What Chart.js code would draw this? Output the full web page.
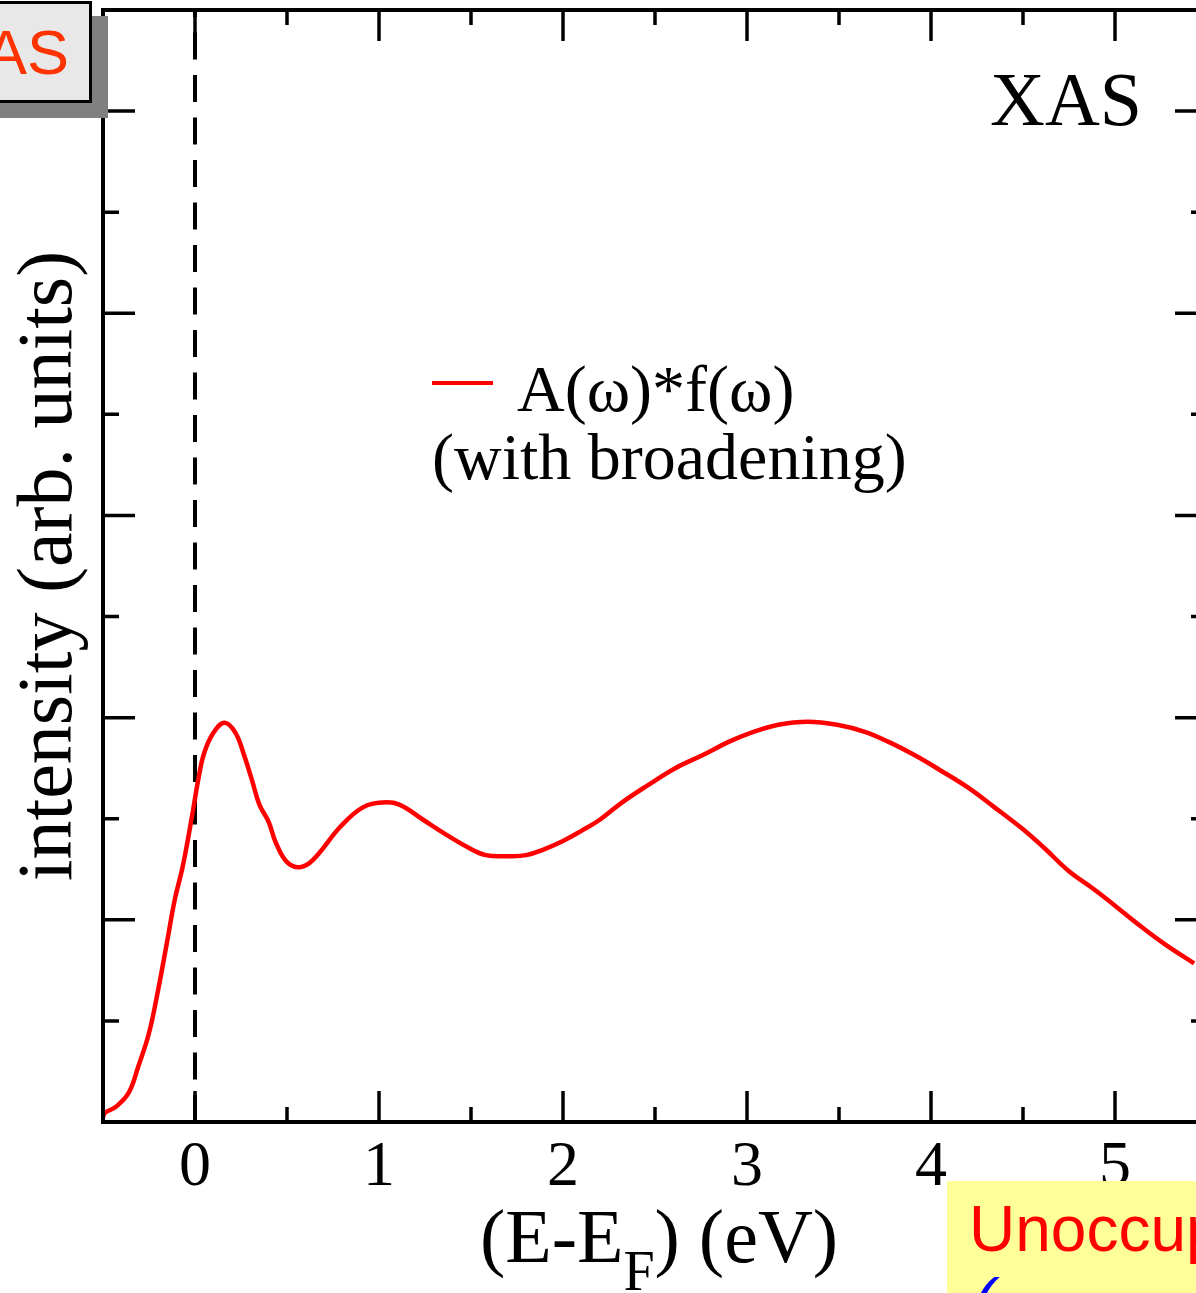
<!DOCTYPE html>
<html>
<head>
<meta charset="utf-8">
<script src="https://cdn.jsdelivr.net/npm/chart.js@4"></script>
<style>
  html, body { margin: 0; padding: 0; background: #fff; }
  body { width: 1196px; height: 1293px; overflow: hidden; position: relative; }
  #wrap { position: absolute; left: 0; top: 0; width: 1240px; height: 1293px; }
  #xTitle {
    position: absolute; left: 359px; width: 600px; top: 1198px;
    text-align: center; font: 76px/76px "Liberation Serif", serif; color: #000; white-space: nowrap;
  }
  #xTitle sub { font-size: 56px; vertical-align: -28px; line-height: 0; }
  #boxTL {
    position: absolute; left: -60px; top: 1px; width: 146px; height: 96px;
    background: #e8e8e8; border: 3px solid #000; box-shadow: 16px 15px 0 #808080;
    font: 63px/96px "Liberation Sans Narrow", "Liberation Sans", sans-serif; color: #ff3300;
    text-align: right; overflow: hidden;
  }
  #boxTL span { position: relative; left: -20px; }
  #boxBR {
    position: absolute; left: 947px; top: 1181px; width: 260px; height: 120px;
    background: #ffff99; overflow: hidden;
    font: 64px/73px "Liberation Sans", sans-serif; white-space: nowrap;
  }
  #boxBR .l1 { position: absolute; left: 22px; top: 12px; color: #ff0000; }
  #boxBR .l2 { position: absolute; left: 26px; top: 85px; color: #0000ff; font-style: italic; }
</style>
</head>
<body>
<div id="wrap"><canvas id="myChart" width="1240" height="1293"></canvas></div>
<div id="xTitle">(E-E<sub>F</sub>) (eV)</div>
<div id="boxTL"><span>XAS</span></div>
<div id="boxBR"><span class="l1">Unoccupied</span><span class="l2">(</span></div>
<script>
// 能量 (E-EF) 與強度
const energy = [-0.50, -0.49, -0.43, -0.36, -0.31, -0.25, -0.20, -0.15, -0.11, -0.07, -0.04, -0.01,
  0.02, 0.05, 0.10, 0.16, 0.22, 0.27, 0.31, 0.35, 0.40, 0.44, 0.50, 0.57, 0.64, 0.79, 0.91,
  1.02, 1.11, 1.24, 1.35, 1.48, 1.58, 1.70, 1.80, 1.90, 2.00, 2.10, 2.20, 2.32, 2.46, 2.61,
  2.76, 2.90, 3.02, 3.17, 3.33, 3.49, 3.64, 3.77, 3.91, 4.05, 4.20, 4.34, 4.49, 4.61, 4.75,
  4.88, 5.00, 5.13, 5.27, 5.43];
const intensity = [0.05, 0.09, 0.15, 0.29, 0.54, 0.88, 1.31, 1.80, 2.20, 2.50, 2.78, 3.09,
  3.41, 3.65, 3.85, 3.95, 3.85, 3.61, 3.38, 3.14, 2.97, 2.76, 2.57, 2.52, 2.59, 2.92, 3.11,
  3.16, 3.14, 2.99, 2.86, 2.72, 2.64, 2.63, 2.64, 2.70, 2.78, 2.88, 2.99, 3.16, 3.33, 3.50,
  3.63, 3.76, 3.85, 3.93, 3.96, 3.93, 3.86, 3.76, 3.63, 3.48, 3.31, 3.12, 2.91, 2.72, 2.48,
  2.31, 2.14, 1.95, 1.76, 1.57];

// Fermi level 虛線
const fermiX = [0, 0];
const fermiY = [0, 11];

// 座標軸範圍與刻度
const xRange = [-0.5, 5.5];
const yRange = [0, 11];
const xTickLabels = ['0', '1', '2', '3', '4', '5'];
const xTickStep = 0.5;   // 小刻度
const yTickStep = 1;     // 每兩格一個大刻度

const seriesLabel = ['A(ω)*f(ω)', '(with broadening)'];
const panelLabel = 'XAS';

const serif = '"Liberation Serif", "Times New Roman", serif';

// 畫外框、朝內刻度、圖例和 XAS 字樣
const framePlugin = {
  id: 'frame',
  afterDatasetsDraw(chart) {
    const { ctx, chartArea: a, scales } = chart;
    const xs = scales.x, ys = scales.y;
    ctx.save();
    ctx.strokeStyle = '#000';
    ctx.lineCap = 'butt';

    // 刻度
    ctx.lineWidth = 3.5;
    for (let v = xRange[0]; v <= xRange[1] + 1e-9; v += xTickStep) {
      const px = xs.getPixelForValue(v);
      const len = Number.isInteger(v) ? 31 : 15;
      ctx.beginPath();
      ctx.moveTo(px, a.bottom); ctx.lineTo(px, a.bottom - len);
      ctx.moveTo(px, a.top); ctx.lineTo(px, a.top + len);
      ctx.stroke();
    }
    for (let v = yRange[0]; v <= yRange[1] + 1e-9; v += yTickStep) {
      const py = ys.getPixelForValue(v);
      const len = (v % 2 === 0) ? 32 : 16;
      ctx.beginPath();
      ctx.moveTo(a.left, py); ctx.lineTo(a.left + len, py);
      ctx.moveTo(a.right, py); ctx.lineTo(a.right - len, py);
      ctx.stroke();
    }

    // 外框
    ctx.lineWidth = 4;
    ctx.strokeRect(a.left, a.top, a.right - a.left, a.bottom - a.top);

    // 圖例
    const ds = chart.data.datasets[0];
    ctx.strokeStyle = ds.borderColor;
    ctx.lineWidth = 4;
    ctx.beginPath();
    ctx.moveTo(432, 383); ctx.lineTo(493, 383);
    ctx.stroke();
    ctx.fillStyle = '#000';
    ctx.font = '66px ' + serif;
    ctx.textBaseline = 'alphabetic';
    ctx.textAlign = 'left';
    ctx.fillText(seriesLabel[0], 517, 411);
    ctx.fillText(seriesLabel[1], 432, 479);

    ctx.font = '76px ' + serif;
    ctx.fillText(panelLabel, 990, 125);
    ctx.restore();
  }
};

const data = {
  datasets: [
    {
      label: seriesLabel.join(' '),
      data: energy.map((e, i) => ({ x: e, y: intensity[i] })),
      borderColor: '#ff0000',
      borderWidth: 4.5,
      pointRadius: 0,
      tension: 0.4,
    },
    {
      label: 'EF',
      data: fermiX.map((e, i) => ({ x: e, y: fermiY[i] })),
      borderColor: '#000',
      borderWidth: 4,
      borderDash: [27, 15.5],
      pointRadius: 0,
    }
  ]
};

const config = {
  type: 'line',
  data: data,
  options: {
    responsive: false,
    animation: false,
    layout: { padding: { top: 10, right: 33, left: 0, bottom: 0 } },
    plugins: {
      legend: { display: false },
      tooltip: { enabled: false },
    },
    scales: {
      x: {
        type: 'linear',
        min: xRange[0],
        max: xRange[1],
        grid: { display: false, drawTicks: false },
        border: { display: false },
        ticks: {
          padding: 8,
          color: '#000',
          font: { family: serif, size: 64 },
        },
        // 只在整數位置放標籤
        afterBuildTicks: (s) => { s.ticks = xTickLabels.map(l => ({ value: Number(l) })); },
        afterFit: (s) => { s.height = 171; }
      },
      y: {
        min: yRange[0],
        max: yRange[1],
        grid: { display: false, drawTicks: false },
        border: { display: false },
        ticks: { display: false },
        title: {
          display: true,
          text: 'intensity (arb. units)',
          color: '#000',
          font: { family: serif, size: 78 },
          padding: { top: 4, bottom: 0 }
        },
        afterFit: (s) => { s.width = 103; }
      }
    }
  },
  plugins: [framePlugin]
};

const ctx = document.getElementById('myChart');
const chart = new Chart(ctx, config);
</script>
</body>
</html>
